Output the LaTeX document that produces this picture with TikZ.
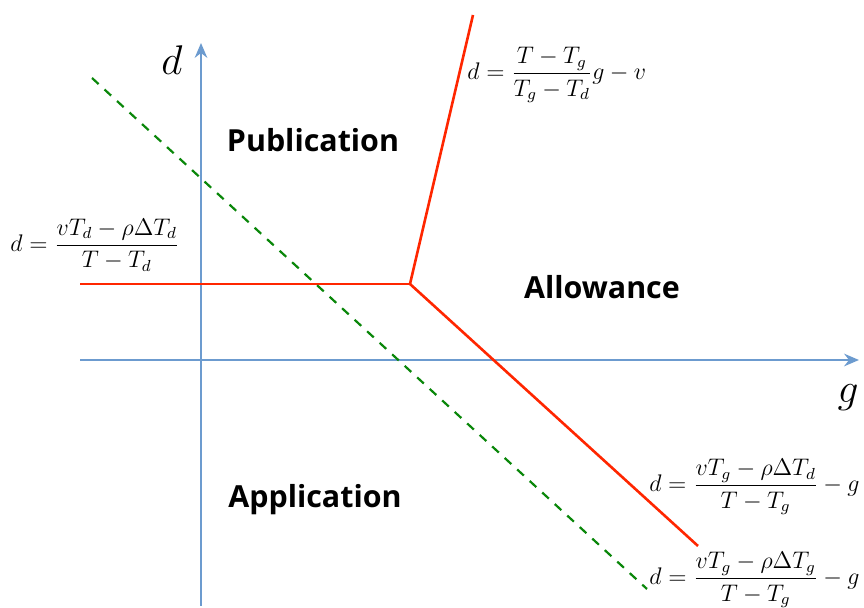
\documentclass[tikz,border=0pt]{standalone}
\usepackage{amsmath}
\usepackage{fontspec}
\usepackage{xcolor}
\usepackage{tikz}
\usetikzlibrary{arrows.meta,positioning,calc}
\newfontfamily\regionfont{Open Sans}
\definecolor{axisblue}{RGB}{108,155,207}
\definecolor{bndred}{RGB}{255,38,0}
\definecolor{lvlgreen}{RGB}{10,135,10}

\begin{document}
\begin{tikzpicture}[
  x=0.5pt,y=-0.5pt,
  axis/.style={-{Stealth[length=2.6mm,width=2.2mm]},line width=1.4pt,color=axisblue},
  bnd/.style={line width=1.3pt,color=bndred},
  lvl/.style={line width=1.1pt,color=lvlgreen,dash pattern=on 4.5pt off 4pt},
  region/.style={font=\regionfont\fontsize{15.2}{18}\selectfont\bfseries,text=black},
  formula/.style={font=\fontsize{11.8}{14}\selectfont,inner sep=0pt},
  axlabel/.style={font=\huge,inner sep=0pt}
]
\useasboundingbox (0,0) rectangle (864,608);
% axes
\coordinate (dbot) at (201,606);
\coordinate (dtop) at (201,43);
\coordinate (gleft) at (80,360);
\coordinate (gright) at (859,360);
\draw[axis] (dbot) -- (dtop);
\draw[axis] (gleft) -- (gright);
\node[axlabel] (dlab) at (172,60) {$d$};
\node[axlabel] (glab) at (848,398) {$g$};
% boundaries
\coordinate (kink) at (410,284);
\coordinate (bleft) at (80,284);
\coordinate (btop) at (473,15);
\coordinate (bbot) at (698,546);
\draw[bnd] (bleft) -- (kink);
\draw[bnd] (kink) -- (btop);
\draw[bnd] (kink) -- (bbot);
% level line
\coordinate (lstart) at (92,78);
\coordinate (lend) at (647,589);
\draw[lvl] (lstart) -- (lend);
% regions
\node[region] (pub) at (313,140) {Publication};
\node[region] (allow) at (602,287) {Allowance};
\node[region] (appl) at (315,500) {Application};
% formulas
\node[formula,anchor=west] (fleft) at (10,245) {$d=\dfrac{vT_d-\rho\Delta T_d}{T-T_d}$};
\node[formula,anchor=west] (ftop) at (467,75) {$d=\dfrac{T-T_g}{T_g-T_d}g-v$};
\node[formula,anchor=east] (fmid) at (860,487) {$d=\dfrac{vT_g-\rho\Delta T_d}{T-T_g}-g$};
\node[formula,anchor=east] (fbot) at (860,580) {$d=\dfrac{vT_g-\rho\Delta T_g}{T-T_g}-g$};
\end{tikzpicture}
\end{document}
